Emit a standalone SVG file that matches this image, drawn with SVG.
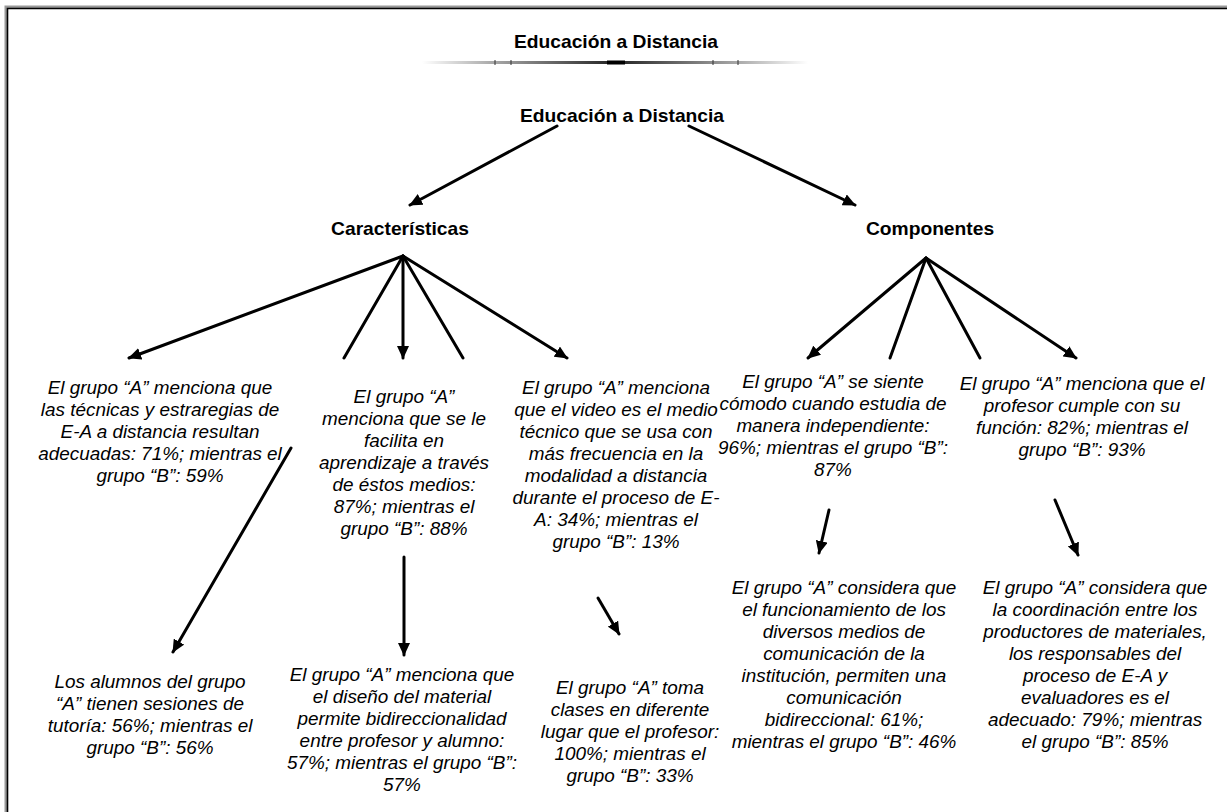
<svg xmlns="http://www.w3.org/2000/svg" width="1227" height="812" viewBox="0 0 1227 812">
<style>
.t{font-family:"Liberation Sans",Arial,sans-serif;font-style:italic;font-size:17.5px;text-anchor:middle;fill:#000}
.b{font-family:"Liberation Sans",Arial,sans-serif;font-weight:bold;font-size:17.5px;text-anchor:middle;fill:#000}
.c{stroke:#000;stroke-width:3;fill:none;stroke-linecap:round}
.h{marker-end:url(#ah)}
</style>
<defs>
<marker id="ah" markerUnits="userSpaceOnUse" markerWidth="14" markerHeight="12" refX="12" refY="6" orient="auto">
<path d="M0,0 L13,6 L0,12 Z" fill="#000"/>
</marker>
<linearGradient id="g" x1="0" y1="0" x2="1" y2="0">
<stop offset="0" stop-color="#fff"/>
<stop offset="0.18" stop-color="#aaa"/>
<stop offset="0.5" stop-color="#222"/>
<stop offset="0.82" stop-color="#aaa"/>
<stop offset="1" stop-color="#fff"/>
</linearGradient>
</defs>
<rect width="1227" height="812" fill="#fff"/>
<g id="frame">
<path d="M6,812 V7 H1227" stroke="#999" stroke-width="3" fill="none"/>
<path d="M7.5,812 V8.5 H1227" stroke="#000" stroke-width="1.6" fill="none"/>
</g>
<g id="header">
<g transform="translate(616,0) scale(1.1,1)"><text class="b" x="0" y="48">Educación a Distancia</text></g>
<rect x="422" y="61" width="386" height="3" fill="url(#g)"/>
<rect x="607" y="60.5" width="18" height="4" fill="#000"/>
<g stroke="#333" stroke-width="1"><path d="M495,60V65M511,60V65M713,60V65M738,60V65"/></g>
</g>
<g id="connectors">
<path class="c h" d="M557,126 L410,205"/>
<path class="c h" d="M689,126 L855,205"/>
<path class="c h" d="M403,256 L129,358"/>
<path class="c" d="M403,256 L344,358"/>
<path class="c h" d="M403,256 L403,358"/>
<path class="c" d="M403,256 L463,358"/>
<path class="c h" d="M403,256 L567,358"/>
<path class="c h" d="M926,258 L808,358"/>
<path class="c" d="M926,258 L890,358"/>
<path class="c" d="M926,258 L980,358"/>
<path class="c h" d="M926,258 L1076,358"/>
<path class="c h" d="M291,448 L173,652"/>
<path class="c h" d="M404,557 L404,655"/>
<path class="c h" d="M598,598 L619,634"/>
<path class="c h" d="M829,510 L819,553"/>
<path class="c h" d="M1055,500 L1078,555"/>
</g>
<g id="n-root" transform="translate(622,0) scale(1.1,1)"><text class="b" x="0" y="122">Educación a Distancia</text></g>
<g id="n-caract" transform="translate(400,0) scale(1.1,1)"><text class="b" x="0" y="235">Características</text></g>
<g id="n-comp" transform="translate(930,0) scale(1.1,1)"><text class="b" x="0" y="235">Componentes</text></g>
<g id="n-c1" transform="translate(160,0) scale(1.08,1)"><text class="t" y="394"><tspan x="0">El grupo “A” menciona que</tspan><tspan x="0" dy="22">las técnicas y estraregias de</tspan><tspan x="0" dy="22">E-A a distancia resultan</tspan><tspan x="0" dy="22">adecuadas: 71%; mientras el</tspan><tspan x="0" dy="22">grupo “B”: 59%</tspan></text></g>
<g id="n-c2" transform="translate(404,0) scale(1.08,1)"><text class="t" y="403"><tspan x="0">El grupo “A”</tspan><tspan x="0" dy="22">menciona que se le</tspan><tspan x="0" dy="22">facilita en</tspan><tspan x="0" dy="22">aprendizaje a través</tspan><tspan x="0" dy="22">de éstos medios:</tspan><tspan x="0" dy="22">87%; mientras el</tspan><tspan x="0" dy="22">grupo “B”: 88%</tspan></text></g>
<g id="n-c3" transform="translate(616,0) scale(1.08,1)"><text class="t" y="394"><tspan x="0">El grupo “A” menciona</tspan><tspan x="0" dy="22">que el video es el medio</tspan><tspan x="0" dy="22">técnico que se usa con</tspan><tspan x="0" dy="22">más frecuencia en la</tspan><tspan x="0" dy="22">modalidad a distancia</tspan><tspan x="0" dy="22">durante el proceso de E-</tspan><tspan x="0" dy="22">A: 34%; mientras el</tspan><tspan x="0" dy="22">grupo “B”: 13%</tspan></text></g>
<g id="n-k1" transform="translate(833,0) scale(1.08,1)"><text class="t" y="388"><tspan x="0">El grupo “A” se siente</tspan><tspan x="0" dy="22">cómodo cuando estudia de</tspan><tspan x="0" dy="22">manera independiente:</tspan><tspan x="0" dy="22">96%; mientras el grupo “B”:</tspan><tspan x="0" dy="22">87%</tspan></text></g>
<g id="n-k2" transform="translate(1082,0) scale(1.08,1)"><text class="t" y="390"><tspan x="0">El grupo “A” menciona que el</tspan><tspan x="0" dy="22">profesor cumple con su</tspan><tspan x="0" dy="22">función: 82%; mientras el</tspan><tspan x="0" dy="22">grupo “B”: 93%</tspan></text></g>
<g id="n-c1b" transform="translate(150,0) scale(1.08,1)"><text class="t" y="688"><tspan x="0">Los alumnos del grupo</tspan><tspan x="0" dy="22">“A” tienen sesiones de</tspan><tspan x="0" dy="22">tutoría: 56%; mientras el</tspan><tspan x="0" dy="22">grupo “B”: 56%</tspan></text></g>
<g id="n-c2b" transform="translate(402,0) scale(1.08,1)"><text class="t" y="681"><tspan x="0">El grupo “A” menciona que</tspan><tspan x="0" dy="22">el diseño del material</tspan><tspan x="0" dy="22">permite bidireccionalidad</tspan><tspan x="0" dy="22">entre profesor y alumno:</tspan><tspan x="0" dy="22">57%; mientras el grupo “B”:</tspan><tspan x="0" dy="22">57%</tspan></text></g>
<g id="n-c3b" transform="translate(630,0) scale(1.08,1)"><text class="t" y="694"><tspan x="0">El grupo “A” toma</tspan><tspan x="0" dy="22">clases en diferente</tspan><tspan x="0" dy="22">lugar que el profesor:</tspan><tspan x="0" dy="22">100%; mientras el</tspan><tspan x="0" dy="22">grupo “B”: 33%</tspan></text></g>
<g id="n-k1b" transform="translate(844,0) scale(1.08,1)"><text class="t" y="594"><tspan x="0">El grupo “A” considera que</tspan><tspan x="0" dy="22">el funcionamiento de los</tspan><tspan x="0" dy="22">diversos medios de</tspan><tspan x="0" dy="22">comunicación de la</tspan><tspan x="0" dy="22">institución, permiten una</tspan><tspan x="0" dy="22">comunicación</tspan><tspan x="0" dy="22">bidireccional: 61%;</tspan><tspan x="0" dy="22">mientras el grupo “B”: 46%</tspan></text></g>
<g id="n-k2b" transform="translate(1095,0) scale(1.08,1)"><text class="t" y="594"><tspan x="0">El grupo “A” considera que</tspan><tspan x="0" dy="22">la coordinación entre los</tspan><tspan x="0" dy="22">productores de materiales,</tspan><tspan x="0" dy="22">los responsables del</tspan><tspan x="0" dy="22">proceso de E-A y</tspan><tspan x="0" dy="22">evaluadores es el</tspan><tspan x="0" dy="22">adecuado: 79%; mientras</tspan><tspan x="0" dy="22">el grupo “B”: 85%</tspan></text></g>
</svg>
